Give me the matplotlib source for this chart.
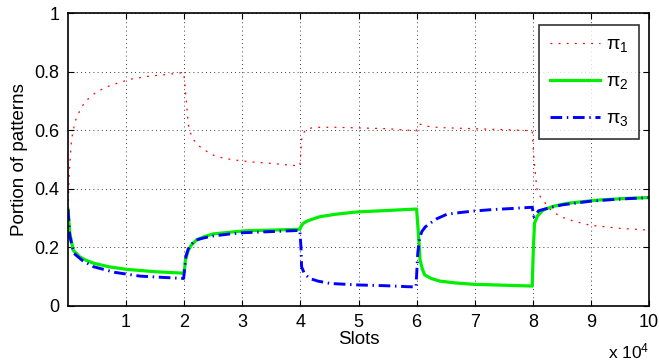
import matplotlib
matplotlib.use("Agg")
import matplotlib.pyplot as plt

plt.rcParams['font.family'] = ['Liberation Sans', 'DejaVu Sans']
plt.rcParams['mathtext.fontset'] = 'custom'
plt.rcParams['mathtext.rm'] = 'Liberation Sans'
plt.rcParams['mathtext.it'] = 'Liberation Sans'
plt.rcParams['mathtext.bf'] = 'Liberation Sans:bold'

# x in units of 10^4 slots
x1 = [0, 0.02, 0.06, 0.12, 0.2, 0.29, 0.49, 0.7, 0.87, 1.1, 1.41, 1.7, 1.99,
      2.01, 2.04, 2.07, 2.1, 2.15, 2.23, 2.33, 2.45, 2.56, 2.75, 2.96, 3.2, 3.48, 3.75, 3.99,
      4.01, 4.02, 4.05, 4.1, 4.2, 4.34, 4.6, 4.97, 5.5, 5.99,
      6.02, 6.05, 6.2, 6.4, 7.0, 7.5, 7.99,
      8.02, 8.07, 8.13, 8.2, 8.3, 8.47, 8.7, 8.98, 9.5, 10.0]
pi1 = [0.33, 0.45, 0.567, 0.629, 0.665, 0.697, 0.731, 0.75, 0.762, 0.775, 0.785, 0.79, 0.797,
       0.76, 0.69, 0.62, 0.595, 0.57, 0.55, 0.535, 0.52, 0.51, 0.502, 0.496, 0.491, 0.487, 0.482, 0.478,
       0.53, 0.567, 0.59, 0.603, 0.608, 0.61, 0.61, 0.608, 0.605, 0.598,
       0.61, 0.621, 0.613, 0.609, 0.605, 0.602, 0.598,
       0.5, 0.40, 0.373, 0.355, 0.33, 0.305, 0.29, 0.276, 0.265, 0.259]

x2 = [0, 0.03, 0.09, 0.2, 0.3, 0.44, 0.7, 1.01, 1.5, 1.99,
      2.01, 2.02, 2.07, 2.13, 2.21, 2.35, 2.5, 2.8, 3.07, 3.5, 3.99,
      4.02, 4.05, 4.12, 4.2, 4.34, 4.6, 4.97, 5.5, 6.0,
      6.03, 6.06, 6.1, 6.14, 6.25, 6.4, 6.65, 6.98, 7.5, 7.99,
      8.01, 8.03, 8.08, 8.18, 8.35, 8.58, 8.85, 9.16, 9.6, 10.0]
pi2 = [0.33, 0.25, 0.19, 0.168, 0.157, 0.146, 0.134, 0.125, 0.117, 0.112,
       0.13, 0.157, 0.19, 0.21, 0.225, 0.237, 0.246, 0.252, 0.257, 0.259, 0.262,
       0.275, 0.282, 0.29, 0.296, 0.305, 0.313, 0.321, 0.326, 0.331,
       0.25, 0.157, 0.125, 0.106, 0.094, 0.085, 0.079, 0.074, 0.071, 0.068,
       0.2, 0.283, 0.307, 0.328, 0.34, 0.35, 0.356, 0.362, 0.367, 0.37]

x3 = [0, 0.03, 0.1, 0.25, 0.44, 0.8, 1.24, 1.6, 1.99,
      2.01, 2.03, 2.07, 2.13, 2.2, 2.35, 2.5, 2.75, 3.0, 3.5, 3.99,
      4.01, 4.02, 4.07, 4.16, 4.3, 4.51, 4.97, 5.5, 5.83, 5.99,
      6.02, 6.05, 6.09, 6.15, 6.23, 6.35, 6.52, 6.75, 6.98, 7.3, 7.66, 7.99,
      8.02, 8.1, 8.3, 8.5, 9.0, 9.5, 10.0]
pi3 = [0.33, 0.24, 0.18, 0.155, 0.134, 0.115, 0.102, 0.098, 0.094,
       0.13, 0.17, 0.195, 0.212, 0.225, 0.233, 0.239, 0.245, 0.25, 0.254, 0.258,
       0.2, 0.134, 0.11, 0.094, 0.085, 0.077, 0.072, 0.069, 0.066, 0.065,
       0.18, 0.23, 0.254, 0.27, 0.282, 0.298, 0.313, 0.319, 0.324, 0.329, 0.333, 0.337,
       0.305, 0.325, 0.336, 0.345, 0.358, 0.365, 0.37]

labels = [r'$\pi_1$', r'$\pi_2$', r'$\pi_3$']
xticks = [1, 2, 3, 4, 5, 6, 7, 8, 9, 10]
yticks = [0, 0.2, 0.4, 0.6, 0.8, 1]
ytick_labels = ['0', '0.2', '0.4', '0.6', '0.8', '1']

fig = plt.figure(figsize=(6.59, 3.62), dpi=100)
ax = fig.add_axes([68/659, 56/362, 581/659, 293/362])

ax.plot(x1, pi1, color='red', lw=0.9, linestyle=(0, (1.5, 5)), label=labels[0])
ax.plot(x2, pi2, color='#00ee00', lw=2.3, linestyle='-', label=labels[1])
ax.plot(x3, pi3, color='blue', lw=2.1, linestyle=(0, (4, 1.6, 0.5, 1.6)), label=labels[2])

ax.set_xlim(0, 10)
ax.set_ylim(0, 1)
ax.set_xticks(xticks)
ax.set_xticklabels([str(t) for t in xticks])
ax.set_yticks(yticks)
ax.set_yticklabels(ytick_labels)
ax.tick_params(direction='in', top=True, right=True, length=4, width=0.8,
               labelsize=13, pad=6, colors='black')
ax.grid(True, linestyle=(0, (1, 4)), color='black', linewidth=0.6)
for s in ax.spines.values():
    s.set_linewidth(1.2)

ax.set_xlabel('Slots', fontsize=13.5, labelpad=0)
ax.set_ylabel('Portion of patterns', fontsize=13.5, labelpad=5)
ax.text(1.0, -0.178, r'x 10$^{4}$', transform=ax.transAxes, ha='right', va='baseline', fontsize=12.5)

leg = ax.legend(loc='upper right', bbox_to_anchor=(0.983, 0.959), fontsize=14,
                frameon=True, fancybox=False, handlelength=2.6, labelspacing=0.95,
                borderpad=0.55, handletextpad=0.3, borderaxespad=0)
leg.get_frame().set_edgecolor('black')
leg.get_frame().set_linewidth(1.2)

fig.savefig('out.png', dpi=100)
